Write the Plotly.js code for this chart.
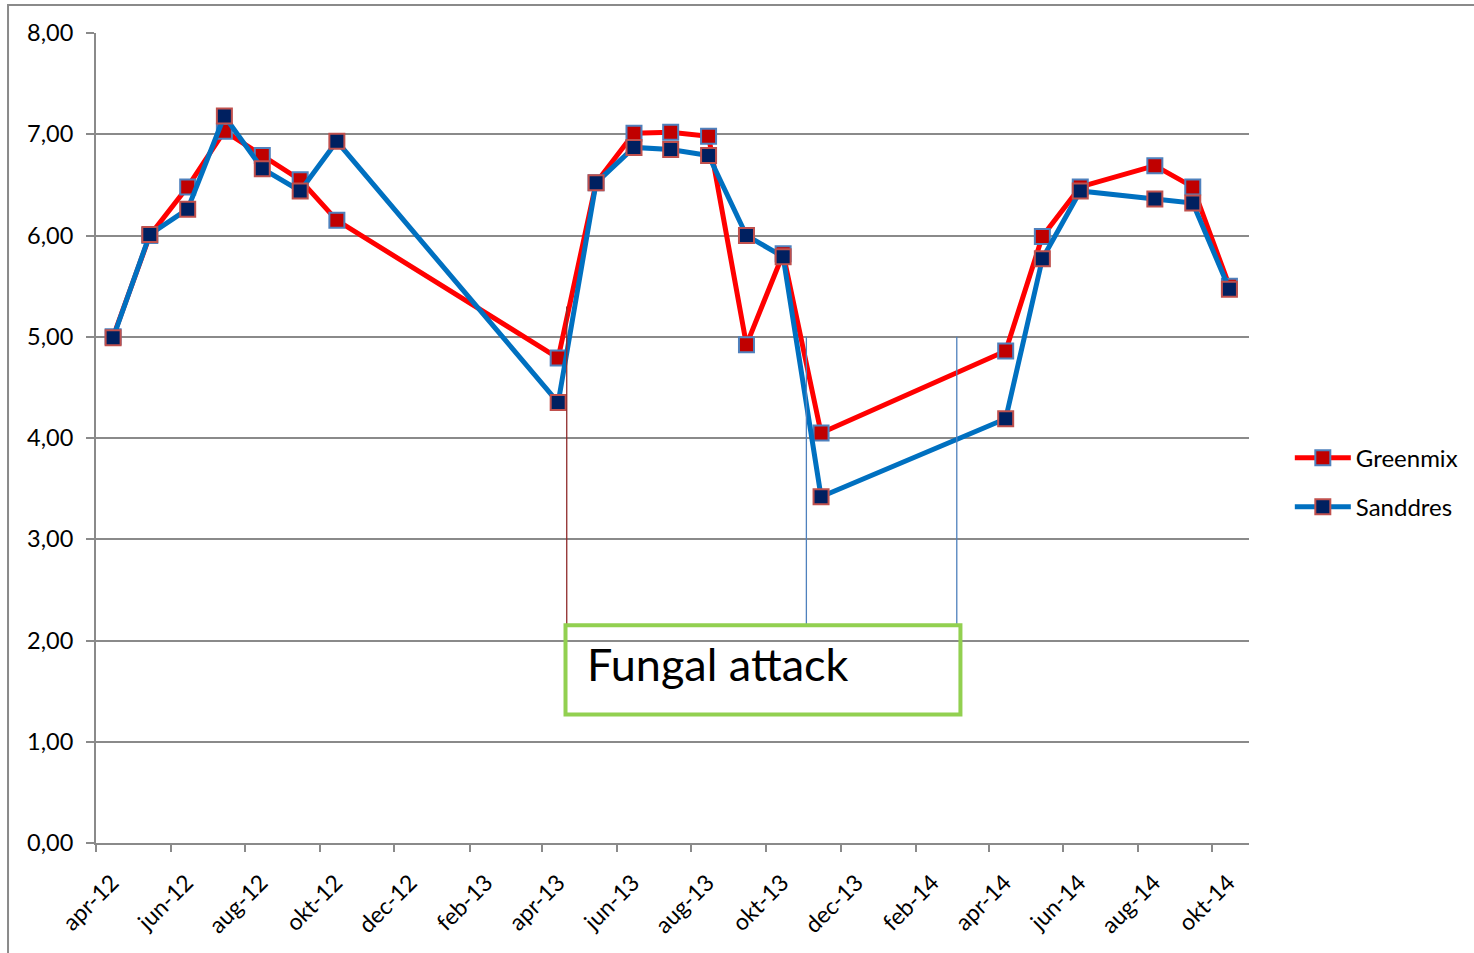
<!DOCTYPE html>
<html>
<head>
<meta charset="utf-8">
<script src="https://cdn.plot.ly/plotly-3.0.1.min.js"></script>
<style>
  html, body { margin: 0; padding: 0; background: #ffffff; }
  #chart { width: 1474px; height: 953px; }
</style>
</head>
<body>
<div id="chart"></div>
<script>
// ---- data ----
var dates = [
  '2012-04-15', '2012-05-15', '2012-06-15', '2012-07-15', '2012-08-15', '2012-09-15', '2012-10-15',
  '2013-04-14', '2013-05-15', '2013-06-15', '2013-07-15', '2013-08-15', '2013-09-15', '2013-10-15', '2013-11-15',
  '2014-04-15', '2014-05-15', '2014-06-15', '2014-08-15', '2014-09-15', '2014-10-15'
];
var greenmix = [5.00, 6.00, 6.48, 7.03, 6.79, 6.55, 6.15,
                4.79, 6.52, 7.01, 7.02, 6.98, 4.92, 5.82, 4.05,
                4.86, 5.99, 6.48, 6.69, 6.48, 5.50];
var sanddres = [4.99, 6.01, 6.26, 7.18, 6.66, 6.44, 6.93,
                4.35, 6.52, 6.87, 6.85, 6.79, 6.00, 5.79, 3.42,
                4.19, 5.77, 6.44, 6.36, 6.32, 5.47];
var seriesNames = ['Greenmix', 'Sanddres'];

var tickDates = ['2012-04-01', '2012-06-01', '2012-08-01', '2012-10-01', '2012-12-01', '2013-02-01',
                 '2013-04-01', '2013-06-01', '2013-08-01', '2013-10-01', '2013-12-01', '2014-02-01',
                 '2014-04-01', '2014-06-01', '2014-08-01', '2014-10-01'];
var tickLabels = ['apr-12', 'jun-12', 'aug-12', 'okt-12', 'dec-12', 'feb-13',
                  'apr-13', 'jun-13', 'aug-13', 'okt-13', 'dec-13', 'feb-14',
                  'apr-14', 'jun-14', 'aug-14', 'okt-14'];
var yTicks = [0, 1, 2, 3, 4, 5, 6, 7, 8];

// annotation markers (fungal attack period)
var attackLineDates = ['2013-04-21', '2013-11-03', '2014-03-06'];
var attackLineTops = [5.30, 5.00, 5.00];
var boxStart = '2013-04-20', boxEnd = '2014-03-09';
var boxTop = 2.15, boxBottom = 1.27;
var boxLabel = 'Fungal attack';

// ---- styling ----
var FONT = 'Lato, "Open Sans", "Liberation Sans", sans-serif';
var GRID = '#8a8a8a';

var traces = [
  {
    x: dates, y: greenmix, name: seriesNames[0], type: 'scatter', mode: 'lines+markers',
    line: { color: '#ff0000', width: 5 },
    marker: { symbol: 'square', size: 15, color: '#c00000', line: { color: '#4f81bd', width: 2 } },
    legendgroup: 'g1'
  },
  {
    x: dates, y: sanddres, name: seriesNames[1], type: 'scatter', mode: 'lines+markers',
    line: { color: '#0070c0', width: 5 },
    marker: { symbol: 'square', size: 15, color: '#002060', line: { color: '#c0504d', width: 2 } },
    legendgroup: 'g2'
  }
];

var shapes = [];
var lineColors = ['#8e2a2a', '#4f81bd', '#4f81bd'];
for (var i = 0; i < attackLineDates.length; i++) {
  shapes.push({
    type: 'line', xref: 'x', yref: 'y',
    x0: attackLineDates[i], x1: attackLineDates[i], y0: boxTop, y1: attackLineTops[i],
    line: { color: lineColors[i], width: 1.3 }
  });
}
shapes.push({
  type: 'rect', xref: 'x', yref: 'y', x0: boxStart, x1: boxEnd, y0: boxBottom, y1: boxTop,
  line: { color: '#92d050', width: 4 }, fillcolor: 'rgba(0,0,0,0)'
});
// outer chart border
shapes.push({
  type: 'rect', xref: 'paper', yref: 'paper', x0: -0.0763, x1: 1.3, y0: -0.3, y1: 1.0346,
  line: { color: '#8a8a8a', width: 2 }, fillcolor: 'rgba(0,0,0,0)', layer: 'below'
});

var layout = {
  width: 1474, height: 953,
  margin: { l: 96, r: 224, t: 33, b: 110, pad: 0 },
  paper_bgcolor: '#ffffff', plot_bgcolor: '#ffffff',
  separators: ', ',
  font: { family: FONT, size: 20, color: '#000000' },
  showlegend: true,
  legend: {
    x: 1.0345, xanchor: 'left', y: 0.445, yanchor: 'middle',
    font: { family: FONT, size: 24, color: '#000000' },
    itemwidth: 56,
    traceorder: 'grouped', tracegroupgap: 15,
    bgcolor: 'rgba(0,0,0,0)', borderwidth: 0
  },
  xaxis: {
    type: 'date',
    range: ['2012-04-01', '2014-10-31'],
    tickmode: 'array', tickvals: tickDates, ticktext: tickLabels,
    tickangle: -45,
    ticks: 'outside', ticklen: 7, tickwidth: 2, tickcolor: GRID,
    showline: true, linecolor: GRID, linewidth: 2,
    showgrid: false, zeroline: false,
    ticklabelshift: 16, ticklabelstandoff: 8,
    tickfont: { family: FONT, size: 23, color: '#000000' }
  },
  yaxis: {
    range: [0, 8],
    tickmode: 'array', tickvals: yTicks,
    tickformat: '.2f',
    ticks: 'outside', ticklen: 8, tickwidth: 2, tickcolor: GRID,
    showline: true, linecolor: GRID, linewidth: 2,
    showgrid: true, gridcolor: GRID, gridwidth: 2,
    zeroline: false,
    ticklabelstandoff: 8,
    tickfont: { family: FONT, size: 23.5, color: '#000000' }
  },
  shapes: shapes,
  annotations: [{
    xref: 'x', yref: 'y', x: boxStart, y: (boxTop + boxBottom) / 2 + 0.06,
    xanchor: 'left', yanchor: 'middle', xshift: 19,
    text: boxLabel, showarrow: false,
    font: { family: FONT, size: 45, color: '#000000' }
  }]
};

Plotly.newPlot('chart', traces, layout, { displayModeBar: false, staticPlot: true });
</script>
</body>
</html>
